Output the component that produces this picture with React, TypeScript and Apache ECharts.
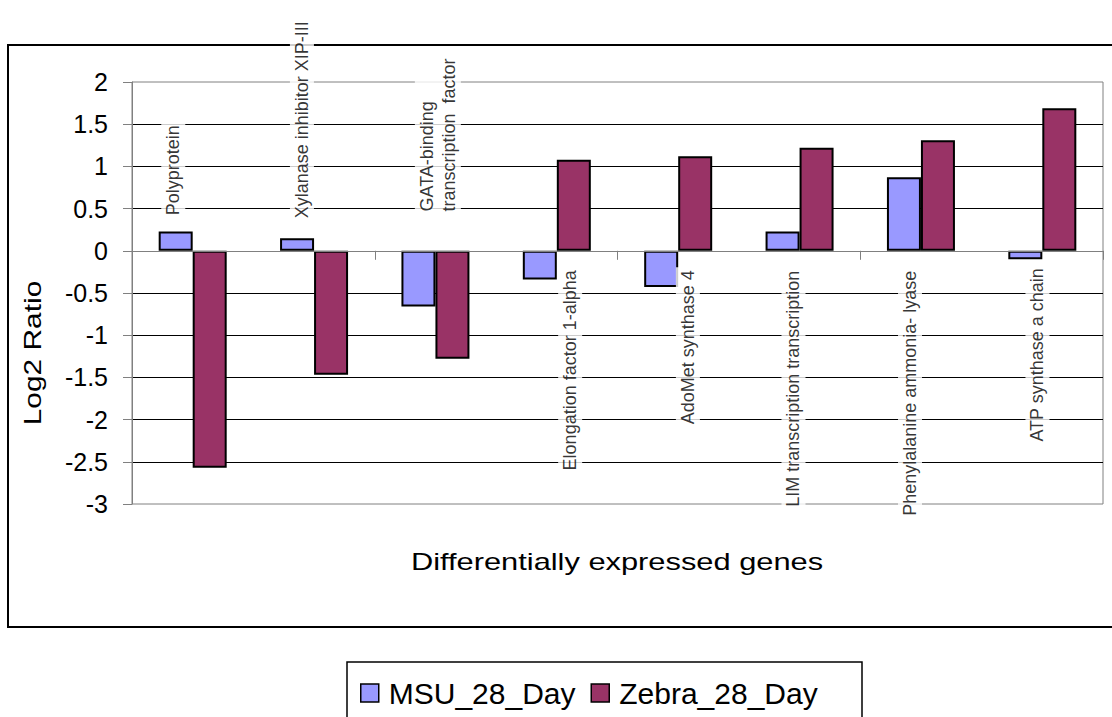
import React, { useEffect, useRef } from 'react';
import * as echarts from 'echarts';

const FONT = '"Liberation Sans", Arial, sans-serif';

const categories = [
  'Polyprotein',
  'Xylanase inhibitor XIP-III',
  'GATA-binding\ntranscription  factor',
  'Elongation factor 1-alpha',
  'AdoMet synthase 4',
  'LIM transcription transcription',
  'Phenylalanine ammonia- lyase',
  'ATP synthase a chain',
];
const seriesNames = ['MSU_28_Day', 'Zebra_28_Day'];
const msuValues = [0.23, 0.15, -0.66, -0.34, -0.43, 0.23, 0.87, -0.1];
const zebraValues = [-2.57, -1.47, -1.28, 1.08, 1.12, 1.22, 1.31, 1.69];
const yMin = -3;
const yMax = 2;
const yInterval = 0.5;
const xTitle = 'Differentially expressed genes';
const yTitle = 'Log2 Ratio';
// annotation anchors for the gene names (category units, value units)
const labelX = [-0.16, 0.9, 2.02, 3.11, 4.08, 4.95, 5.91, 6.96];
const labelY = [0.385, 0.35, 0.43, -0.195, -0.195, -0.2, -0.2, -0.17];
const labelAbove = [true, true, true, false, false, false, false, false];

export default function App() {
  const ref = useRef<HTMLDivElement>(null);
  useEffect(() => {
    if (!ref.current) return;
    const chart = echarts.init(ref.current, undefined, { renderer: 'svg' });
    const option: any = {
      animation: false,
      backgroundColor: '#fff',
      textStyle: { fontFamily: FONT },
      grid: {
        left: 132,
        right: 9,
        top: 82,
        bottom: 213,
        show: true,
        borderColor: '#808080',
        borderWidth: 1,
        backgroundColor: 'transparent',
      },
      legend: {
        data: seriesNames,
        left: 355,
        top: 673,
        icon: 'rect',
        itemWidth: 18,
        itemHeight: 18,
        itemGap: 15,
        textStyle: { fontSize: 30, color: '#000', fontFamily: FONT, padding: [0, 0, 0, 5] },
        itemStyle: { borderColor: '#000', borderWidth: 1.5 },
      },
      xAxis: [
        {
          type: 'category',
          data: categories,
          z: 3,
          axisLine: { onZero: true, lineStyle: { color: '#808080', width: 1 } },
          axisTick: { show: true, length: 9, lineStyle: { color: '#808080' } },
          axisLabel: { show: false },
          splitLine: { show: false },
        },
        { type: 'value', min: -0.5, max: 7.5, show: false },
      ],
      yAxis: {
        type: 'value',
        min: yMin,
        max: yMax,
        interval: yInterval,
        axisLine: { show: true, onZero: false, lineStyle: { color: '#808080' } },
        axisTick: { show: true, length: 9, lineStyle: { color: '#808080' } },
        axisLabel: { fontSize: 25, color: '#000', margin: 24, fontFamily: FONT },
        splitLine: { show: true, showMinLine: false, showMaxLine: false, lineStyle: { color: '#000', width: 1 } },
      },
      series: [
        {
          name: seriesNames[0],
          type: 'bar',
          data: msuValues,
          barWidth: 34,
          barGap: '0%',
          itemStyle: { color: '#9999FF', borderColor: '#000', borderWidth: 2 },
        },
        {
          name: seriesNames[1],
          type: 'bar',
          data: zebraValues,
          barWidth: 34,
          barGap: '0%',
          itemStyle: { color: '#993366', borderColor: '#000', borderWidth: 2 },
        },
        {
          name: 'labels',
          type: 'scatter',
          xAxisIndex: 1,
          yAxisIndex: 0,
          symbolSize: 1,
          silent: true,
          z: 10,
          itemStyle: { color: 'transparent' },
          data: categories.map((c, i) => ({
            name: c,
            value: [labelX[i], labelY[i]],
            label: { align: labelAbove[i] ? 'left' : 'right' },
          })),
          label: {
            show: true,
            position: 'inside',
            rotate: 90,
            verticalAlign: 'middle',
            fontSize: 18,
            lineHeight: 22,
            color: '#000',
            fontFamily: FONT,
            backgroundColor: '#fff',
            padding: [1, 3],
            formatter: (p: any) => p.name,
          },
        },
      ],
      graphic: [
        {
          type: 'rect',
          z: 0,
          silent: true,
          shape: { x: 8, y: 45, width: 1120, height: 582 },
          style: { fill: 'none', stroke: '#000', lineWidth: 2 },
        },
        {
          type: 'rect',
          z: 0,
          silent: true,
          shape: { x: 347, y: 662, width: 515, height: 80 },
          style: { fill: 'none', stroke: '#000', lineWidth: 1.5 },
        },
        {
          type: 'text',
          x: 617,
          y: 562,
          scaleX: 1.34,
          style: {
            text: xTitle,
            fontSize: 23,
            fontFamily: FONT,
            fill: '#000',
            textAlign: 'center',
            textVerticalAlign: 'middle',
          },
        },
        {
          type: 'text',
          x: 33,
          y: 353,
          rotation: Math.PI / 2,
          scaleX: 1.3,
          style: {
            text: yTitle,
            fontSize: 23,
            fontFamily: FONT,
            fill: '#000',
            textAlign: 'center',
            textVerticalAlign: 'middle',
          },
        },
      ],
    };
    chart.setOption(option);
    return () => chart.dispose();
  }, []);
  return (
    <div
      ref={ref}
      style={{ position: 'fixed', left: 0, top: 0, width: 1112, height: 717, background: '#fff' }}
    />
  );
}
